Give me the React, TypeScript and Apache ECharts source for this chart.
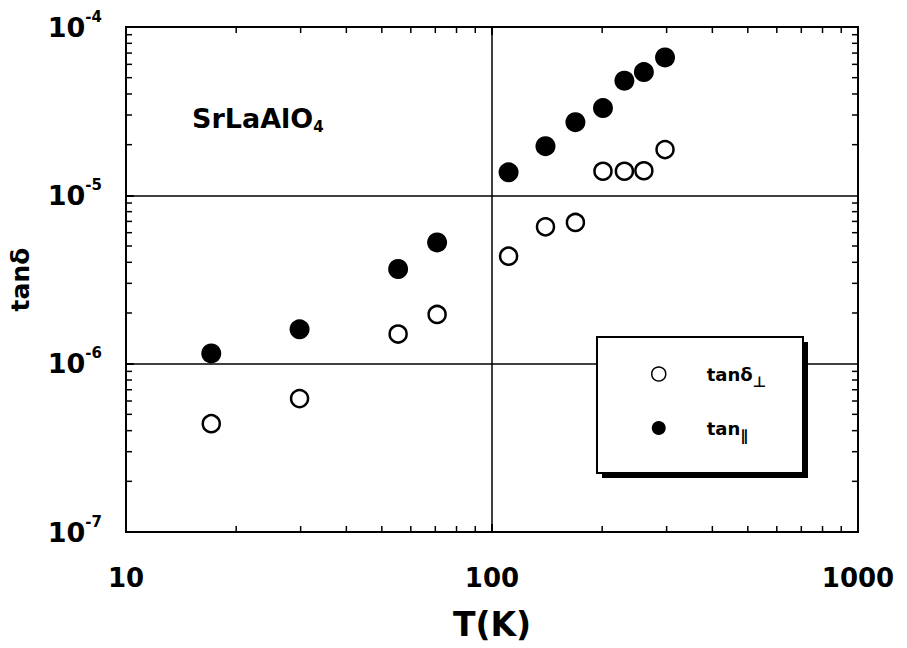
import React, { useEffect, useRef } from "react";
import * as echarts from "echarts";

// ---- data ----
const temperatures = [17.1, 29.8, 55.4, 70.8, 111, 140, 169, 201, 230, 260, 297];
const tanPerp = [4.4e-7, 6.2e-7, 1.5e-6, 1.96e-6, 4.35e-6, 6.5e-6, 6.9e-6, 1.39e-5, 1.39e-5, 1.4e-5, 1.87e-5];
const tanPar = [1.15e-6, 1.6e-6, 3.65e-6, 5.25e-6, 1.37e-5, 1.96e-5, 2.72e-5, 3.3e-5, 4.8e-5, 5.4e-5, 6.6e-5];

const X_MIN = 10;
const X_MAX = 1000;
const Y_MIN = 1e-7;
const Y_MAX = 1e-4;

const minorMultipliers = [2, 3, 4, 5, 6, 7, 8, 9];
const xDecades = [10, 100];
const yDecades = [1e-7, 1e-6, 1e-5];
const minorX = xDecades.flatMap((d) => minorMultipliers.map((m) => m * d));
const minorY = yDecades.flatMap((d) => minorMultipliers.map((m) => m * d));

const seriesNames = ["tanPerp", "tanPar"];

const FONT = "'DejaVu Sans', 'Liberation Sans', sans-serif";

export default function App() {
  const ref = useRef<HTMLDivElement | null>(null);

  useEffect(() => {
    if (!ref.current) return;
    const chart = echarts.init(ref.current, null, { renderer: "svg" });

    const tickStyle = { stroke: "#000", lineWidth: 1.5 };

    const option: any = {
      animation: false,
      backgroundColor: "#fff",
      grid: {
        left: 126,
        right: 49,
        top: 27,
        bottom: 116,
        show: true,
        borderColor: "#000",
        borderWidth: 2,
        backgroundColor: "transparent",
      },
      xAxis: {
        type: "log",
        logBase: 10,
        min: X_MIN,
        max: X_MAX,
        name: "T(K)",
        nameLocation: "middle",
        nameGap: 76,
        nameTextStyle: { fontFamily: FONT, fontWeight: "bold", fontSize: 33, color: "#000" },
        axisLine: { lineStyle: { color: "#000", width: 2 } },
        axisTick: { inside: true, length: 8, lineStyle: { color: "#000", width: 2 } },
        splitLine: { show: true, lineStyle: { color: "#000", width: 1.5 } },
        axisLabel: {
          margin: 33,
          fontFamily: FONT,
          fontWeight: "bold",
          fontSize: 26,
          color: "#000",
          formatter: (v: number) => String(Math.round(v)),
        },
      },
      yAxis: {
        type: "log",
        logBase: 10,
        min: Y_MIN,
        max: Y_MAX,
        name: "tanδ",
        nameLocation: "middle",
        nameRotate: 90,
        nameGap: 93,
        nameTextStyle: { fontFamily: FONT, fontWeight: "bold", fontSize: 25, color: "#000" },
        axisLine: { lineStyle: { color: "#000", width: 2 } },
        axisTick: { inside: true, length: 8, lineStyle: { color: "#000", width: 2 } },
        splitLine: { show: true, lineStyle: { color: "#000", width: 1.5 } },
        axisLabel: {
          margin: 24,
          formatter: (v: number) => `{b|10}{s|${Math.round(Math.log10(v))}}`,
          rich: {
            b: { fontFamily: FONT, fontWeight: "bold", fontSize: 27, color: "#000", lineHeight: 36 },
            s: {
              fontFamily: FONT,
              fontWeight: "bold",
              fontSize: 15,
              color: "#000",
              verticalAlign: "top",
              lineHeight: 16,
            },
          },
        },
      },
      legend: {
        orient: "vertical",
        left: 651,
        top: 365,
        itemWidth: 14,
        itemHeight: 14,
        itemGap: 30,
        padding: 0,
        z: 5,
        selectedMode: false,
        data: [
          {
            name: "tanPerp",
            icon: "circle",
            itemStyle: { color: "#fff", borderColor: "#000", borderWidth: 1.5 },
          },
          { name: "tanPar", icon: "circle", itemStyle: { color: "#000", borderWidth: 0 } },
        ],
        formatter: (name: string) =>
          name === "tanPerp" ? "{a|tanδ}{s|⊥}" : "{a|tan}{s|∥}",
        textStyle: {
          rich: {
            a: {
              fontFamily: FONT,
              fontWeight: "bold",
              fontSize: 18,
              color: "#000",
              padding: [0, 0, 0, 36],
              lineHeight: 30,
            },
            s: {
              fontFamily: FONT,
              fontWeight: "bold",
              fontSize: 15,
              color: "#000",
              verticalAlign: "bottom",
              lineHeight: 14,
            },
          },
        },
      },
      graphic: [
        {
          type: "rect",
          z: 3,
          shape: { x: 602, y: 342, width: 206, height: 136 },
          style: { fill: "#000" },
          silent: true,
        },
        {
          type: "rect",
          z: 3,
          shape: { x: 597, y: 337, width: 206, height: 136 },
          style: { fill: "#fff", stroke: "#000", lineWidth: 2 },
          silent: true,
        },
        {
          type: "text",
          z: 5,
          x: 192,
          y: 118,
          style: {
            text: "{m|SrLaAlO}{s|4}",
            verticalAlign: "middle",
            rich: {
              m: { fontFamily: FONT, fontWeight: "bold", fontSize: 27, fill: "#000", lineHeight: 32 },
              s: {
                fontFamily: FONT,
                fontWeight: "bold",
                fontSize: 15,
                fill: "#000",
                verticalAlign: "bottom",
                lineHeight: 14,
              },
            },
          },
        },
      ],
      series: [
        {
          name: seriesNames[0],
          type: "scatter",
          symbol: "circle",
          symbolSize: 17,
          z: 2,
          itemStyle: { color: "#fff", borderColor: "#000", borderWidth: 2.5, opacity: 1 },
          data: temperatures.map((t, i) => [t, tanPerp[i]]),
        },
        {
          name: seriesNames[1],
          type: "scatter",
          symbol: "circle",
          symbolSize: 20,
          z: 2,
          itemStyle: { color: "#000", opacity: 1 },
          data: temperatures.map((t, i) => [t, tanPar[i]]),
        },
        {
          name: "minorX",
          type: "custom",
          silent: true,
          clip: false,
          z: 1,
          data: minorX.map((t) => [t, Y_MIN]),
          renderItem: (_params: any, api: any) => {
            const t = api.value(0);
            const b = api.coord([t, Y_MIN]);
            const tp = api.coord([t, Y_MAX]);
            return {
              type: "group",
              children: [
                { type: "line", shape: { x1: b[0], y1: b[1], x2: b[0], y2: b[1] - 6 }, style: tickStyle },
                { type: "line", shape: { x1: tp[0], y1: tp[1], x2: tp[0], y2: tp[1] + 6 }, style: tickStyle },
              ],
            };
          },
        },
        {
          name: "minorY",
          type: "custom",
          silent: true,
          clip: false,
          z: 1,
          data: minorY.map((v) => [X_MIN, v]),
          renderItem: (_params: any, api: any) => {
            const v = api.value(1);
            const l = api.coord([X_MIN, v]);
            const r = api.coord([X_MAX, v]);
            return {
              type: "group",
              children: [
                { type: "line", shape: { x1: l[0], y1: l[1], x2: l[0] + 6, y2: l[1] }, style: tickStyle },
                { type: "line", shape: { x1: r[0], y1: r[1], x2: r[0] - 6, y2: r[1] }, style: tickStyle },
              ],
            };
          },
        },
        {
          name: "majorTopRight",
          type: "custom",
          silent: true,
          clip: false,
          z: 1,
          data: [[100, Y_MAX]],
          renderItem: (_params: any, api: any) => {
            const tp = api.coord([api.value(0), Y_MAX]);
            return {
              type: "line",
              shape: { x1: tp[0], y1: tp[1], x2: tp[0], y2: tp[1] + 8 },
              style: { stroke: "#000", lineWidth: 2 },
            };
          },
        },
      ],
    };

    chart.setOption(option);
    return () => chart.dispose();
  }, []);

  return (
    <div
      ref={ref}
      style={{ position: "absolute", left: 0, top: 0, width: 907, height: 648, background: "#fff" }}
    />
  );
}
